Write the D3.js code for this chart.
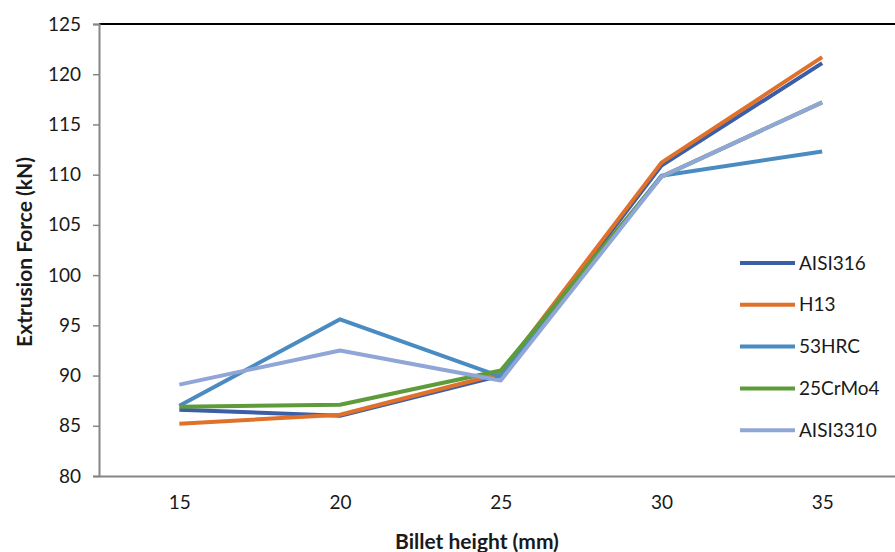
<!DOCTYPE html>
<html lang="en">
<head>
    <meta charset="UTF-8">
    <title>Extrusion Force vs Billet height</title>
    <script src="https://d3js.org/d3.v7.min.js"></script>
    <style>
        body { margin: 0; background: #fff; }
        text { font-family: Lato, "Open Sans", sans-serif; fill: #1a1a1a; }
    </style>
</head>
<body>
    <div id="chart-container"></div>
    <script>
        // data
        const heights = ["15", "20", "25", "30", "35"];
        const aisi316 = [86.6, 86.0, 90.0, 110.9, 121.1];
        const h13 = [85.2, 86.1, 90.2, 111.2, 121.7];
        const hrc53 = [87.0, 95.6, 89.9, 109.9, 112.3];
        const crmo4 = [86.9, 87.1, 90.5, 109.8, 117.2];
        const aisi3310 = [89.1, 92.5, 89.5, 109.8, 117.2];
        const seriesNames = ["AISI316", "H13", "53HRC", "25CrMo4", "AISI3310"];
        const yTicks = [80, 85, 90, 95, 100, 105, 110, 115, 120, 125];

        const series = [aisi316, h13, hrc53, crmo4, aisi3310].map((v, i) => ({ name: seriesNames[i], values: v }));

        const containerWidth = 895;
        const containerHeight = 552;
        const margins = { top: 24, left: 99 };
        const width = 803.5;
        const height = 452;

        const color = d3.scaleOrdinal()
            .domain(seriesNames)
            .range(["#3b5ea8", "#e0712b", "#4a8cc2", "#5e9b3b", "#8fa6d6"]);

        const svg = d3.select("#chart-container")
            .append("svg")
            .attr("width", containerWidth)
            .attr("height", containerHeight);

        const g = svg.append("g")
            .attr("transform", `translate(${margins.left},${margins.top})`);

        const x = d3.scalePoint().domain(heights).range([0, width]).padding(0.5);
        const y = d3.scaleLinear().domain([80, 125]).range([height, 0]);

        // top border
        g.append("line")
            .attr("x1", 0).attr("x2", containerWidth)
            .attr("y1", y(125)).attr("y2", y(125))
            .attr("stroke", "#000").attr("stroke-width", 2);

        // y axis
        const yAxis = g.append("g")
            .call(d3.axisLeft(y).tickValues(yTicks).tickSize(6).tickPadding(12));
        yAxis.select(".domain").attr("stroke", "#868686").attr("stroke-width", 2);
        yAxis.selectAll(".tick line").attr("stroke", "#868686").attr("stroke-width", 1.5);
        yAxis.selectAll("text").style("font-size", "19px").attr("fill", "#1a1a1a");

        // x axis
        const xAxis = g.append("g")
            .attr("transform", `translate(0,${height})`)
            .call(d3.axisBottom(x).tickSize(0).tickPadding(20));
        xAxis.select(".domain").attr("stroke", "#868686").attr("stroke-width", 2);
        xAxis.selectAll("text").style("font-size", "19px").attr("fill", "#1a1a1a");

        // lines
        const line = d3.line()
            .x((d, i) => x(heights[i]))
            .y(d => y(d));

        g.selectAll(".series")
            .data(series)
            .join("path")
            .attr("class", "series")
            .attr("d", d => line(d.values))
            .attr("fill", "none")
            .attr("stroke", d => color(d.name))
            .attr("stroke-width", 4)
            .attr("stroke-linejoin", "round");

        // legend
        const legend = svg.append("g")
            .attr("transform", "translate(740,263)");
        const item = legend.selectAll("g")
            .data(seriesNames)
            .join("g")
            .attr("transform", (d, i) => `translate(0,${i * 41.8})`);
        item.append("line")
            .attr("x1", 0).attr("x2", 55)
            .attr("stroke", d => color(d))
            .attr("stroke-width", 4);
        item.append("text")
            .attr("x", 59)
            .attr("dy", "0.35em")
            .style("font-size", "19px")
            .text(d => d);

        // axis titles
        svg.append("text")
            .attr("x", 477)
            .attr("y", 549)
            .attr("text-anchor", "middle")
            .style("font-size", "21px")
            .style("font-weight", "bold")
            .text("Billet height (mm)");

        svg.append("text")
            .attr("transform", "translate(32,252) rotate(-90)")
            .attr("text-anchor", "middle")
            .style("font-size", "21px")
            .style("font-weight", "bold")
            .text("Extrusion Force (kN)");
    </script>
</body>
</html>
